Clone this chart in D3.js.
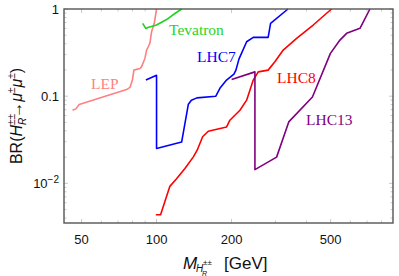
<!DOCTYPE html>
<html><head><meta charset="utf-8">
<script src="https://cdn.jsdelivr.net/npm/d3@7"></script>
<style>body{margin:0;background:#fff}svg{display:block}</style>
</head><body>
<svg id="c" width="399" height="276"></svg>
<script>
const lepM  = [46.0,47.4,48.9,75.8,78.2,80.0,81.1,85.7,87.0,89.8,91.2,92.6,94.0,95.5,97.9,100];
const lepBR = [0.069,0.0715,0.0803,0.119,0.126,0.153,0.199,0.208,0.217,0.271,0.338,0.369,0.403,0.548,0.685,1.0];
const tevM  = [87.9,90.6,92.3,100,109.7,118.5,126.1];
const tevBR = [0.685,0.597,0.613,0.655,0.757,0.888,1.0];
const lhc7M  = [90.6,100,100,126.1,134.2,138.0,145.2,173.0,179.6,191,204.5,208.3,214.2,230,244.5,280.6,287,337];
const lhc7BR = [0.153,0.174,0.0251,0.0298,0.0809,0.090,0.0956,0.100,0.123,0.153,0.179,0.199,0.266,0.421,0.473,0.473,0.685,1.0];
const lhc8M  = [99.3,103.8,113.1,120.3,130,140.3,145.6,153.1,161.3,191.1,197.0,206.3,216.2,230,244.5,256,280.6,298.6,322.6,365,425.6,504];
const lhc8BR = [0.00437,0.00437,0.00924,0.0113,0.0148,0.020,0.024,0.0342,0.0396,0.0444,0.053,0.0605,0.069,0.090,0.153,0.190,0.199,0.248,0.338,0.46,0.655,1.0];
const lhc13M  = [200.2,248.3,248.3,303.4,339.5,422.6,499,545,579.5,655.8,719];
const lhc13BR = [0.1556,0.190,0.01437,0.020,0.0507,0.098,0.31,0.44,0.526,0.60,1.0];
const xTicks = [50,100,200,500];
const xMinor = [60,70,80,90,300,400,600,700,800];
const yTicks = [1,0.1,0.01];

const series = [
  {name:"LEP", m:lepM, br:lepBR, color:"#ff8080", lx:91, ly:89},
  {name:"Tevatron", m:tevM, br:tevBR, color:"#1ed41e", lx:169, ly:35},
  {name:"LHC7", m:lhc7M, br:lhc7BR, color:"#0000ff", lx:197, ly:62},
  {name:"LHC8", m:lhc8M, br:lhc8BR, color:"#ff0000", lx:277, ly:83},
  {name:"LHC13", m:lhc13M, br:lhc13BR, color:"#800080", lx:306, ly:125}
];

const L=64, R=393, T=9, B=223;
const x = d3.scaleLog().domain([42.5, 890]).range([L, R]);
const y = d3.scaleLog().domain([0.00351, 1]).range([B, T]);
const svg = d3.select("#c");

const yMinor = [];
[0.001,0.01,0.1].forEach(d=>{for(let k=2;k<=9;k++){const v=d*k; if(v>=0.00351&&v<1) yMinor.push(v);}});

const tg = svg.append("g").attr("stroke","#bbb").attr("stroke-width",0.8);
xTicks.forEach(v=>{tg.append("line").attr("x1",x(v)).attr("x2",x(v)).attr("y1",B).attr("y2",B-4);
  tg.append("line").attr("x1",x(v)).attr("x2",x(v)).attr("y1",T).attr("y2",T+4);});
xMinor.forEach(v=>{tg.append("line").attr("x1",x(v)).attr("x2",x(v)).attr("y1",B).attr("y2",B-2.5);
  tg.append("line").attr("x1",x(v)).attr("x2",x(v)).attr("y1",T).attr("y2",T+2.5);});
yTicks.forEach(v=>{tg.append("line").attr("y1",y(v)).attr("y2",y(v)).attr("x1",L).attr("x2",L+4);
  tg.append("line").attr("y1",y(v)).attr("y2",y(v)).attr("x1",R).attr("x2",R-4);});
yMinor.forEach(v=>{tg.append("line").attr("y1",y(v)).attr("y2",y(v)).attr("x1",L).attr("x2",L+2.5);
  tg.append("line").attr("y1",y(v)).attr("y2",y(v)).attr("x1",R).attr("x2",R-2.5);});

const line = d3.line().x(d=>x(d[0])).y(d=>y(d[1]));
series.forEach(s=>{
  const pts = s.m.map((m,i)=>[m, s.br[i]]);
  svg.append("path").attr("d", line(pts)).attr("fill","none")
    .attr("stroke", s.color).attr("stroke-width",1.6).attr("stroke-linejoin","round");
  svg.append("text").attr("x", s.lx).attr("y", s.ly).attr("fill", s.color)
    .attr("font-family","'Liberation Serif','DejaVu Serif',serif").attr("font-size",15.5).text(s.name);
});

svg.append("rect").attr("x",L).attr("y",T).attr("width",R-L).attr("height",B-T)
  .attr("fill","none").attr("stroke","#555").attr("stroke-width",1.4);

const sans = "'Liberation Sans',Arial,sans-serif";
xTicks.forEach(v=>svg.append("text").attr("x",x(v)).attr("y",244).attr("text-anchor","middle")
  .attr("font-family",sans).attr("font-size",13).attr("fill","#111").text(v));
const yl = svg.append("g").attr("font-family",sans).attr("font-size",13).attr("fill","#111");
yl.append("text").attr("x",59).attr("y",y(1)+4.5).attr("text-anchor","end").text("1");
yl.append("text").attr("x",59).attr("y",y(0.1)+4.5).attr("text-anchor","end").text("0.1");
const t2 = yl.append("text").attr("x",59).attr("y",y(0.01)+4.5).attr("text-anchor","end");
t2.append("tspan").text("10");
t2.append("tspan").attr("dy",-5).attr("font-size",10).text("−2");

// x axis label (pieces placed explicitly)
const xg = svg.append("g").attr("font-family",sans).attr("fill","#111");
xg.append("text").attr("x",183).attr("y",269).attr("font-size",17).attr("font-style","italic").text("M");
xg.append("text").attr("x",196).attr("y",272).attr("font-size",10).attr("font-style","italic").text("H");
xg.append("text").attr("x",203).attr("y",265).attr("font-size",8).text("±±");
xg.append("text").attr("x",202).attr("y",276).attr("font-size",7).attr("font-style","italic").text("R");
xg.append("text").attr("x",224).attr("y",269).attr("font-size",17).text("[GeV]");

// y axis label
const ylab = svg.append("text").attr("transform","translate(22,116) rotate(-90)").attr("text-anchor","middle")
  .attr("font-family",sans).attr("font-size",16).attr("fill","#111");
ylab.append("tspan").text("BR(");
ylab.append("tspan").attr("font-style","italic").text("H");
ylab.append("tspan").attr("font-size",10).attr("dy",-7).text("±±");
ylab.append("tspan").attr("font-style","italic").attr("font-size",10).attr("dx",-11).attr("dy",11).text("R");
ylab.append("tspan").attr("dy",-4).text("→");
ylab.append("tspan").attr("font-style","italic").text("μ");
ylab.append("tspan").attr("font-size",10).attr("dy",-7).text("±");
ylab.append("tspan").attr("font-style","italic").attr("dy",7).text("μ");
ylab.append("tspan").attr("font-size",10).attr("dy",-7).text("±");
ylab.append("tspan").attr("dy",7).text(")");
</script>
</body></html>
